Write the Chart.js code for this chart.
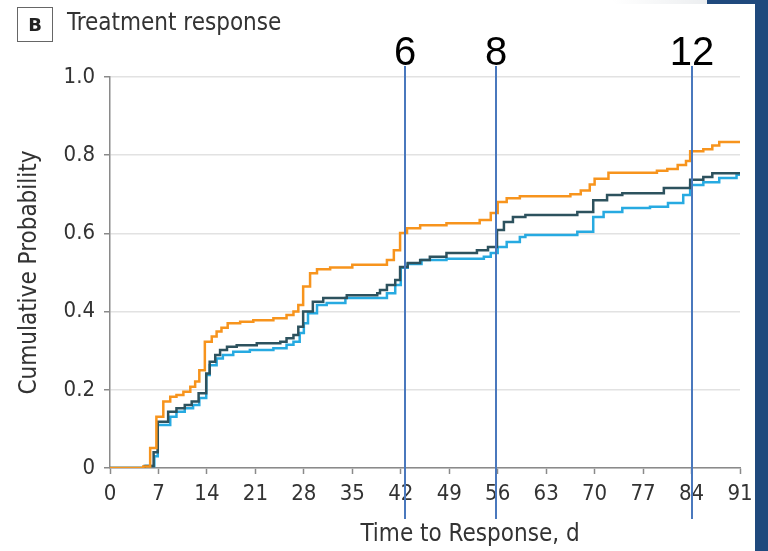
<!DOCTYPE html>
<html>
<head>
<meta charset="utf-8">
<script src="https://cdn.jsdelivr.net/npm/chart.js@4.4.1/dist/chart.umd.min.js"></script>
<style>
  html, body { margin: 0; padding: 0; background: #fff; }
  #wrap { position: relative; width: 768px; height: 551px; overflow: hidden; }
  #chart { position: absolute; left: 0; top: 0; }
  .panel-box { position: absolute; left: 17px; top: 7px; width: 34px; height: 33px;
    border: 1.5px solid #666; font: bold 18px "DejaVu Sans", sans-serif; color: #222;
    text-align: center; line-height: 33px; }
  .panel-title { position: absolute; left: 67px; top: 8px; line-height: 28px;
    font: 24px "DejaVu Sans Condensed", sans-serif; color: #333; }
  .deco-bar { position: absolute; left: 755px; top: 0; width: 13px; height: 551px; background: #1f497d; }
  .deco-top { position: absolute; left: 707px; top: 0; width: 61px; height: 4px; background: #1f497d; }
  .deco-fade { position: absolute; left: 613px; top: 0; width: 94px; height: 4px; background: linear-gradient(to right, #fff, #eceef0); }
</style>
</head>
<body>
<div id="wrap">
  <canvas id="chart" width="768" height="551"></canvas>
  <div class="panel-box">B</div>
  <div class="panel-title">Treatment response</div>
  <div class="deco-fade"></div>
  <div class="deco-top"></div>
  <div class="deco-bar"></div>
</div>
<script>
// cumulative probability of response (step points: day, value)
const orangeDays = [0, 4.8, 5.8, 6.7, 7.7, 8.7, 9.6, 10.6, 11.6, 12.3, 12.9, 13.7, 14.7, 15.4, 16.1, 17, 18.8, 20.7, 23.6, 25.5, 26.5, 27.2, 27.9, 28.9, 29.9, 31.8, 35, 40, 41, 41.9, 42.9, 44.8, 48.6, 53.4, 55, 56, 57.3, 59.2, 66.5, 68, 69.3, 70, 72, 79, 80.5, 82, 83.2, 83.8, 85.7, 87, 88, 91];
const orangeProb = [0, 0.004, 0.051, 0.131, 0.17, 0.182, 0.187, 0.195, 0.208, 0.221, 0.25, 0.323, 0.336, 0.349, 0.359, 0.37, 0.374, 0.378, 0.383, 0.391, 0.4, 0.417, 0.464, 0.498, 0.508, 0.513, 0.52, 0.532, 0.557, 0.601, 0.613, 0.621, 0.626, 0.634, 0.652, 0.68, 0.69, 0.695, 0.70, 0.71, 0.725, 0.74, 0.755, 0.76, 0.765, 0.775, 0.785, 0.81, 0.815, 0.825, 0.834, 0.834];

const darkDays = [0, 5, 6.3, 6.9, 8.4, 9.6, 10.8, 11.8, 12.8, 13.9, 14.4, 15.2, 15.9, 16.9, 18.3, 21.2, 24.6, 25.5, 26.5, 27.2, 27.9, 29.3, 30.8, 34.2, 38.6, 39, 40, 41.2, 41.9, 43, 44.8, 46.2, 48.6, 53, 54.6, 55.9, 56.9, 58.2, 60, 67.5, 69.8, 71.8, 74, 80, 83.8, 85.7, 87, 91];
const darkProb = [0, 0.005, 0.04, 0.118, 0.144, 0.153, 0.161, 0.17, 0.191, 0.242, 0.272, 0.289, 0.302, 0.31, 0.314, 0.319, 0.323, 0.332, 0.34, 0.361, 0.40, 0.425, 0.435, 0.442, 0.447, 0.455, 0.468, 0.481, 0.514, 0.524, 0.532, 0.54, 0.55, 0.557, 0.565, 0.609, 0.629, 0.642, 0.647, 0.655, 0.685, 0.698, 0.703, 0.716, 0.737, 0.744, 0.754, 0.755];

const blueDays = [0, 5.2, 6.4, 6.9, 8.7, 9.6, 10.8, 12, 12.9, 13.9, 14.4, 15.4, 16.3, 17.8, 20.2, 23.6, 25.5, 26.5, 27.4, 28, 28.6, 29.9, 31.3, 34, 40, 41.2, 42, 43, 45, 48.6, 54, 55, 56, 57.3, 59.2, 60, 67.5, 69.8, 71.3, 74, 78, 80.6, 82.8, 83.8, 85.7, 88, 90.5, 91];
const blueProb = [0, 0.005, 0.03, 0.11, 0.131, 0.144, 0.153, 0.161, 0.179, 0.238, 0.263, 0.28, 0.289, 0.297, 0.302, 0.306, 0.315, 0.323, 0.345, 0.37, 0.396, 0.417, 0.422, 0.435, 0.447, 0.468, 0.512, 0.522, 0.532, 0.535, 0.54, 0.55, 0.565, 0.578, 0.591, 0.596, 0.604, 0.642, 0.655, 0.665, 0.668, 0.678, 0.698, 0.724, 0.731, 0.742, 0.75, 0.75];

// week markers drawn over the chart (day position, week label)
const markDays = [42.6, 55.8, 84.1];
const markLabels = ['6', '8', '12'];

const xTicks = [0, 7, 14, 21, 28, 35, 42, 49, 56, 63, 70, 77, 84, 91];
const xTitle = 'Time to Response, d';

const axisFont = '"DejaVu Sans Condensed", sans-serif';

function toPoints(days, prob) {
  return days.map((d, i) => ({ x: d, y: prob[i] }));
}

// x title sits right of centre in the original, so draw it here
const xTitlePlugin = {
  id: 'xTitle',
  afterDraw(chart) {
    const ctx = chart.ctx;
    const area = chart.chartArea;
    ctx.save();
    ctx.fillStyle = '#333';
    ctx.font = '24px ' + axisFont;
    ctx.textAlign = 'center';
    ctx.textBaseline = 'middle';
    ctx.fillText(xTitle, (area.left + area.right) / 2 + 45, 535);
    ctx.restore();
  }
};

// vertical week lines + labels, placed through the x scale
const weekMarks = {
  id: 'weekMarks',
  afterDraw(chart) {
    const ctx = chart.ctx;
    const xs = chart.scales.x;
    ctx.save();
    ctx.strokeStyle = '#4a78bd';
    ctx.lineWidth = 2;
    ctx.fillStyle = '#000';
    ctx.font = '40px "Liberation Sans", sans-serif';
    ctx.textAlign = 'center';
    ctx.textBaseline = 'alphabetic';
    markDays.forEach((d, i) => {
      const px = Math.round(xs.getPixelForValue(d));
      ctx.beginPath();
      ctx.moveTo(px, 66);
      ctx.lineTo(px, 519);
      ctx.stroke();
      ctx.fillText(markLabels[i], px, 65);
    });
    ctx.restore();
  }
};

const series = [
  { days: orangeDays, prob: orangeProb, color: '#f7941d' },
  { days: darkDays, prob: darkProb, color: '#2d525e' },
  { days: blueDays, prob: blueProb, color: '#27aae1' }
];

new Chart(document.getElementById('chart'), {
  type: 'line',
  data: {
    datasets: series.map(s => ({
      data: toPoints(s.days, s.prob),
      borderColor: s.color,
      borderWidth: 2.5,
      stepped: true,
      pointRadius: 0,
      fill: false
    }))
  },
  options: {
    responsive: false,
    animation: false,
    layout: { padding: { top: 77, right: 28, left: 0, bottom: 0 } },
    plugins: { legend: { display: false }, tooltip: { enabled: false } },
    scales: {
      x: {
        type: 'linear',
        min: 0,
        max: 91,
        afterBuildTicks(scale) { scale.ticks = xTicks.map(v => ({ value: v })); },
        afterFit(scale) { scale.height = 83; },
        grid: { drawOnChartArea: false, tickLength: 6, tickColor: '#8a8a8a', tickWidth: 1.5 },
        border: { color: '#8a8a8a', width: 1.5 },
        ticks: { color: '#333', font: { family: axisFont, size: 22 }, padding: 7, maxRotation: 0 }
      },
      y: {
        min: 0,
        max: 1,
        afterFit(scale) { scale.width = 110; },
        grid: { color: '#e2e2e2', lineWidth: 1.5, tickLength: 6, tickColor: '#8a8a8a', tickWidth: 1.5 },
        border: { color: '#8a8a8a', width: 1.5 },
        ticks: {
          stepSize: 0.2,
          color: '#333',
          font: { family: axisFont, size: 22 },
          padding: 9,
          callback: v => v === 0 ? '0' : v.toFixed(1)
        },
        title: { display: true, text: 'Cumulative Probability', color: '#333',
          font: { family: axisFont, size: 24 }, padding: { top: 15, bottom: 0 } }
      }
    }
  },
  plugins: [weekMarks, xTitlePlugin]
});
</script>
</body>
</html>
